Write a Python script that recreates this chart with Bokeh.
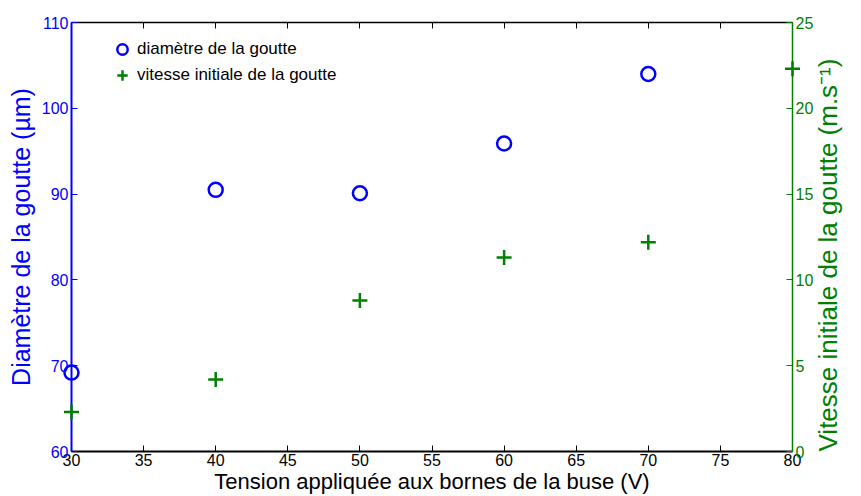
import math
from bokeh.plotting import figure
from bokeh.models import Range1d, LinearAxis, Legend, LegendItem, FixedTicker, CustomJSTickFormatter
from bokeh.embed import file_html
from bokeh.resources import INLINE

tension = [30, 40, 50, 60, 70, 80]
diametre_x = [30, 40, 50, 60, 70]
diametre = [69.2, 90.5, 90.1, 95.9, 104.0]
vitesse = [2.3, 4.2, 8.8, 11.3, 12.2, 22.3]

x_ticks = [30, 35, 40, 45, 50, 55, 60, 65, 70, 75, 80]
left_ticks = [60, 70, 80, 90, 100, 110]
right_ticks = [0, 5, 10, 15, 20, 25]

FONT = "Liberation Sans"
BLUE = "#0000ff"
GREEN = "#008000"

p = figure(width=861, height=496, output_backend="svg", toolbar_location=None,
           x_range=Range1d(30, 80), y_range=Range1d(60, 110),
           min_border_left=71, min_border_right=60, min_border_top=22, min_border_bottom=43,
           x_axis_location=None, y_axis_location=None)
p.extra_y_ranges = {"v": Range1d(0, 25)}
p.grid.visible = False
p.outline_line_color = None
p.background_fill_color = "white"
p.border_fill_color = "white"

# bottom axis
xb = LinearAxis(ticker=FixedTicker(ticks=x_ticks), axis_label="Tension appliquée aux bornes de la buse (V)")
xb.axis_line_color = "black"
xb.axis_line_width = 2
xb.major_tick_in = 6
xb.major_tick_out = 0
xb.minor_tick_line_color = None
xb.major_label_standoff = 2
xb.axis_label_standoff = 0
xb.major_label_text_font = FONT
xb.major_label_text_font_size = "16px"
xb.major_label_text_color = "black"
xb.axis_label_text_font = FONT
xb.axis_label_text_font_size = "22px"
xb.axis_label_text_font_style = "normal"
xb.axis_label_text_color = "black"
p.add_layout(xb, "below")

# top axis (border with ticks)
xt = LinearAxis(ticker=FixedTicker(ticks=x_ticks),
                formatter=CustomJSTickFormatter(code="return ''"))
xt.axis_line_color = "black"
xt.axis_line_width = 1.5
xt.major_tick_in = 6
xt.major_tick_out = 0
xt.minor_tick_line_color = None
xt.major_label_text_font_size = "0px"
xt.major_label_standoff = 0
p.add_layout(xt, "above")

# left axis
yl = LinearAxis(ticker=FixedTicker(ticks=left_ticks), axis_label="Diamètre de la goutte (µm)")
yl.axis_line_color = BLUE
yl.axis_line_width = 2
yl.major_tick_line_color = BLUE
yl.major_tick_in = 6
yl.major_tick_out = 0
yl.minor_tick_line_color = None
yl.major_label_standoff = 3
yl.axis_label_standoff = 4
yl.major_label_text_font = FONT
yl.major_label_text_font_size = "16px"
yl.major_label_text_color = BLUE
yl.axis_label_text_font = FONT
yl.axis_label_text_font_size = "25px"
yl.axis_label_text_font_style = "normal"
yl.axis_label_text_color = BLUE
p.add_layout(yl, "left")

# right axis
RIGHT_LABEL = "Vitesse initiale de la goutte (m.s⁻¹)"
yr = LinearAxis(y_range_name="v", ticker=FixedTicker(ticks=right_ticks))
yr.axis_line_color = GREEN
yr.axis_line_width = 1.5
yr.major_tick_line_color = GREEN
yr.major_tick_in = 6
yr.major_tick_out = 0
yr.minor_tick_line_color = None
yr.major_label_standoff = 3
yr.major_label_text_font = FONT
yr.major_label_text_font_size = "16px"
yr.major_label_text_color = GREEN
yr.axis_label_text_font = FONT
yr.axis_label_text_font_size = "26px"
yr.axis_label_text_font_style = "normal"
yr.axis_label_text_color = GREEN
yr.axis_label_standoff = 12
yr.axis_label_align = "start"
yr.axis_label_orientation = math.pi / 2
yr.axis_label = RIGHT_LABEL
p.add_layout(yr, "right")

r1 = p.scatter(diametre_x, diametre, marker="circle", size=14, fill_color=None,
               line_color=BLUE, line_width=2.5, level="overlay")
r2 = p.scatter(tension, vitesse, marker="cross", size=15, line_color=GREEN,
               line_width=2.5, y_range_name="v", level="overlay")

legend = Legend(items=[LegendItem(label="diamètre de la goutte", renderers=[r1]),
                       LegendItem(label="vitesse initiale de la goutte", renderers=[r2])],
                location="top_left")
legend.border_line_color = None
legend.background_fill_alpha = 0
legend.label_text_font = FONT
legend.label_text_font_size = "17px"
legend.label_text_color = "black"
legend.margin = 0
legend.padding = 0
legend.spacing = 0
legend.glyph_width = 28
legend.glyph_height = 26
legend.label_height = 22
legend.label_standoff = 1
legend.location = (37, 363)
p.add_layout(legend, "center")

open("out.html", "w").write(file_html(p, INLINE))
